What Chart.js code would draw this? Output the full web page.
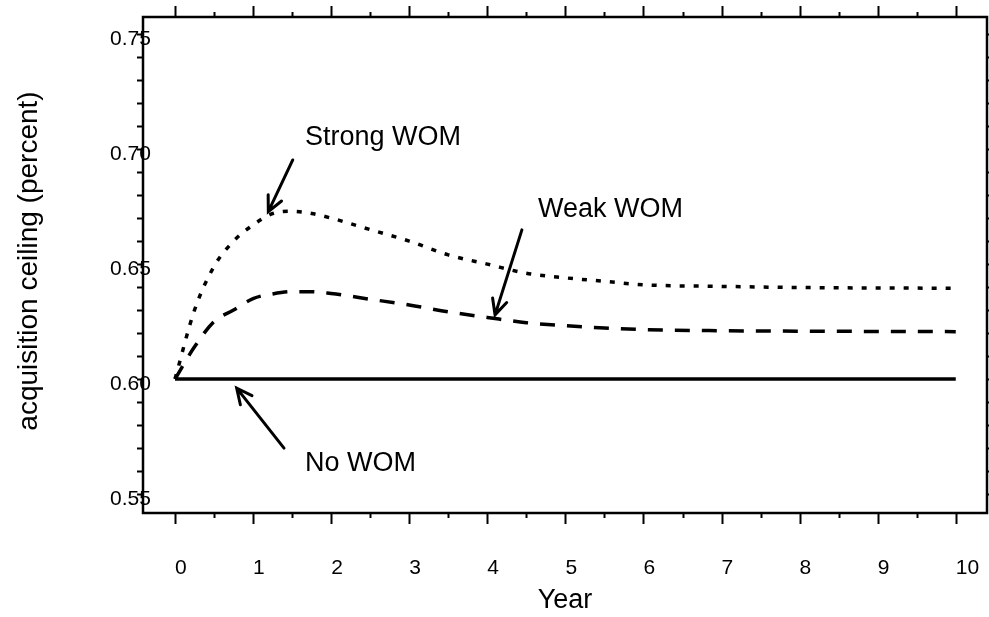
<!DOCTYPE html>
<html>
<head>
<meta charset="utf-8">
<script src="https://cdn.jsdelivr.net/npm/chart.js@4"></script>
<style>
  html, body { margin: 0; padding: 0; background: #fff; }
  #wrap { width: 989px; height: 617px; }
</style>
</head>
<body>
<div id="wrap"><canvas id="wom"></canvas></div>
<script>
// Years (x) and acquisition ceiling values
const years = [0, 0.25, 0.5, 0.75, 1, 1.25, 1.5, 1.75, 2, 2.5, 3, 3.5, 4, 4.5, 5, 5.5, 6, 7, 8, 9, 10];
const strongWom = [0.600, 0.630, 0.649, 0.660, 0.667, 0.672, 0.673, 0.672, 0.670, 0.665, 0.660, 0.654, 0.650, 0.646, 0.644, 0.6425, 0.641, 0.6403, 0.6398, 0.6396, 0.6395];
const weakWom = [0.600, 0.614, 0.625, 0.630, 0.635, 0.637, 0.638, 0.638, 0.6372, 0.6347, 0.6322, 0.6292, 0.6268, 0.6245, 0.6232, 0.6222, 0.6215, 0.621, 0.6208, 0.6207, 0.6206];
const noWom = [0.600, 0.600, 0.600, 0.600, 0.600, 0.600, 0.600, 0.600, 0.600, 0.600, 0.600, 0.600, 0.600, 0.600, 0.600, 0.600, 0.600, 0.600, 0.600, 0.600, 0.600];

const xTicks = [0, 1, 2, 3, 4, 5, 6, 7, 8, 9, 10];
const yTickLabels = ['0.55', '0.60', '0.65', '0.70', '0.75'];

// annotations: label position and arrow tail -> tip, in data units
const notes = [
    { text: 'Strong WOM', at: [1.665, 0.7049], tail: [1.508, 0.6953], tip: [1.195, 0.6728] },
    { text: 'Weak WOM', at: [4.65, 0.6736], tail: [4.443, 0.6649], tip: [4.099, 0.6279] },
    { text: 'No WOM', at: [1.665, 0.5634], tail: [1.396, 0.5699], tip: [0.790, 0.5960] }
];

const FONT = '"Liberation Sans", Arial, sans-serif';

function toPoints(vals) {
    return years.map((x, i) => ({ x: x, y: vals[i] }));
}

const framePlugin = {
    id: 'frame',
    afterDraw(chart) {
        const ctx = chart.ctx;
        const a = chart.chartArea;
        const xs = chart.scales.x;
        const ys = chart.scales.y;
        ctx.save();
        ctx.strokeStyle = '#000';
        ctx.fillStyle = '#000';

        // frame
        ctx.lineWidth = 2.5;
        ctx.strokeRect(a.left, a.top, a.right - a.left, a.bottom - a.top);

        // x ticks (major + half-year minor), top and bottom, pointing outward
        ctx.lineWidth = 2;
        for (let v = 0; v <= 10; v += 0.5) {
            const px = Math.round(xs.getPixelForValue(v)) + 0.5;
            const len = Number.isInteger(v) ? 11 : 5;
            ctx.beginPath();
            ctx.moveTo(px, a.top);
            ctx.lineTo(px, a.top - len);
            ctx.moveTo(px, a.bottom);
            ctx.lineTo(px, a.bottom + len);
            ctx.stroke();
        }

        // y ticks every 0.01, left and right
        for (let i = 0; i <= 20; i++) {
            const v = 0.55 + i * 0.01;
            const py = Math.round(ys.getPixelForValue(v)) + 0.5;
            ctx.beginPath();
            ctx.moveTo(a.left, py);
            ctx.lineTo(a.left - 6, py);
            ctx.moveTo(a.right, py);
            ctx.lineTo(a.right + 6, py);
            ctx.stroke();
        }

        // tick labels
        ctx.font = '21px ' + FONT;
        ctx.textAlign = 'left';
        ctx.textBaseline = 'alphabetic';
        xTicks.forEach(v => {
            ctx.fillText(String(v), xs.getPixelForValue(v), 574);
        });
        ctx.textBaseline = 'middle';
        yTickLabels.forEach(t => {
            ctx.fillText(t, 110, ys.getPixelForValue(parseFloat(t)) + 5);
        });

        // axis titles
        ctx.font = '27px ' + FONT;
        ctx.textAlign = 'center';
        ctx.textBaseline = 'alphabetic';
        ctx.fillText('Year', (a.left + a.right) / 2, 608);
        ctx.save();
        ctx.font = '28px ' + FONT;
        ctx.translate(37, 261);
        ctx.rotate(-Math.PI / 2);
        ctx.fillText('acquisition ceiling (percent)', 0, 0);
        ctx.restore();

        // annotations with arrows
        ctx.font = '27px ' + FONT;
        ctx.textAlign = 'left';
        ctx.textBaseline = 'middle';
        ctx.lineWidth = 3;
        ctx.lineCap = 'round';
        notes.forEach(n => {
            ctx.fillText(n.text, xs.getPixelForValue(n.at[0]), ys.getPixelForValue(n.at[1]));
            const tx = xs.getPixelForValue(n.tail[0]), ty = ys.getPixelForValue(n.tail[1]);
            const hx = xs.getPixelForValue(n.tip[0]), hy = ys.getPixelForValue(n.tip[1]);
            const ang = Math.atan2(ty - hy, tx - hx);
            ctx.beginPath();
            ctx.moveTo(tx, ty);
            ctx.lineTo(hx, hy);
            ctx.moveTo(hx + 17 * Math.cos(ang - 0.45), hy + 17 * Math.sin(ang - 0.45));
            ctx.lineTo(hx, hy);
            ctx.lineTo(hx + 17 * Math.cos(ang + 0.45), hy + 17 * Math.sin(ang + 0.45));
            ctx.stroke();
        });
        ctx.restore();
    }
};

new Chart(document.getElementById('wom'), {
    type: 'line',
    data: {
        datasets: [
            {
                label: 'Strong WOM',
                data: toPoints(strongWom),
                borderColor: '#000',
                borderWidth: 3.5,
                borderDash: [5, 9],
                cubicInterpolationMode: 'monotone',
                pointRadius: 0,
                fill: false
            },
            {
                label: 'Weak WOM',
                data: toPoints(weakWom),
                borderColor: '#000',
                borderWidth: 3.5,
                borderDash: [15, 12],
                cubicInterpolationMode: 'monotone',
                pointRadius: 0,
                fill: false
            },
            {
                label: 'No WOM',
                data: toPoints(noWom),
                borderColor: '#000',
                borderWidth: 3.5,
                pointRadius: 0,
                fill: false
            }
        ]
    },
    options: {
        responsive: true,
        maintainAspectRatio: false,
        animation: false,
        layout: {
            padding: { left: 143, right: 2, top: 17, bottom: 104 }
        },
        plugins: {
            legend: { display: false },
            tooltip: { enabled: false }
        },
        scales: {
            x: { type: 'linear', min: -0.41, max: 10.4, display: false },
            y: { type: 'linear', min: 0.5417, max: 0.7575, display: false }
        }
    },
    plugins: [framePlugin]
});
</script>
</body>
</html>
